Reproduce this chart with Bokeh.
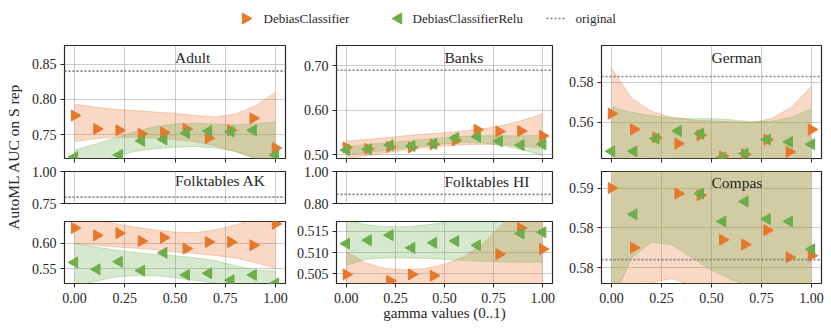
import math
from bokeh.plotting import figure
from bokeh.models import Span, Label, FixedTicker, Range1d
from bokeh.layouts import row, column
from bokeh.embed import file_html
from bokeh.resources import INLINE

# ---------------- data ----------------
GAMMA = [0.0, 0.111, 0.222, 0.333, 0.444, 0.556, 0.667, 0.778, 0.889, 1.0]
BAND_X = [0.0, 0.1, 0.2, 0.3, 0.4, 0.5, 0.6, 0.7, 0.8, 0.9, 1.0]
X_TICKS = [0.0, 0.25, 0.5, 0.75, 1.0]
X_TICK_LABELS = ["0.00", "0.25", "0.50", "0.75", "1.00"]

ADULT_DEBIAS = [0.777, 0.758, 0.756, 0.751, 0.753, 0.758, 0.745, 0.756, 0.773, 0.731]
ADULT_RELU = [0.718, 0.705, 0.721, 0.741, 0.743, 0.752, 0.755, 0.754, 0.756, 0.721]
ADULT_ORIGINAL = 0.840
ADULT_DEBIAS_LO = [0.740, 0.744, 0.746, 0.746, 0.745, 0.743, 0.740, 0.734, 0.726, 0.716, 0.705]
ADULT_DEBIAS_HI = [0.793, 0.789, 0.786, 0.784, 0.782, 0.780, 0.777, 0.775, 0.779, 0.791, 0.810]
ADULT_RELU_LO = [0.700, 0.710, 0.719, 0.726, 0.730, 0.732, 0.733, 0.731, 0.726, 0.716, 0.700]
ADULT_RELU_HI = [0.728, 0.736, 0.745, 0.754, 0.761, 0.765, 0.766, 0.765, 0.764, 0.765, 0.768]
ADULT_YTICKS = [0.75, 0.80, 0.85]
ADULT_YLABELS = ["0.75", "0.80", "0.85"]

BANKS_DEBIAS = [0.516, 0.513, 0.517, 0.516, 0.523, 0.532, 0.556, 0.552, 0.553, 0.542]
BANKS_RELU = [0.510, 0.512, 0.521, 0.519, 0.524, 0.5375, 0.540, 0.530, 0.521, 0.523]
BANKS_ORIGINAL = 0.690
BANKS_DEBIAS_LO = [0.490, 0.497, 0.504, 0.510, 0.515, 0.519, 0.522, 0.523, 0.522, 0.519, 0.514]
BANKS_DEBIAS_HI = [0.530, 0.534, 0.538, 0.542, 0.546, 0.549, 0.553, 0.558, 0.566, 0.577, 0.592]
BANKS_RELU_LO = [0.500, 0.504, 0.509, 0.514, 0.519, 0.524, 0.527, 0.526, 0.520, 0.510, 0.498]
BANKS_RELU_HI = [0.518, 0.522, 0.526, 0.530, 0.534, 0.538, 0.541, 0.542, 0.542, 0.542, 0.543]
BANKS_YTICKS = [0.50, 0.60, 0.70]
BANKS_YLABELS = ["0.50", "0.60", "0.70"]

GERMAN_DEBIAS = [0.5643, 0.5565, 0.5524, 0.5494, 0.5536, 0.5431, 0.5441, 0.5514, 0.5453, 0.5564]
GERMAN_RELU = [0.5456, 0.5456, 0.5519, 0.5557, 0.5544, 0.5425, 0.5445, 0.5514, 0.5502, 0.5491]
GERMAN_ORIGINAL = 0.5828
GERMAN_DEBIAS_LO = [0.538, 0.5422, 0.5421, 0.541, 0.540, 0.5395, 0.539, 0.5385, 0.538, 0.536, 0.532]
GERMAN_DEBIAS_HI = [0.5871, 0.5720, 0.5655, 0.5625, 0.5612, 0.5607, 0.5602, 0.5598, 0.5620, 0.5675, 0.5780]
GERMAN_RELU_LO = [0.540, 0.5431, 0.5426, 0.5415, 0.541, 0.5408, 0.5403, 0.5395, 0.538, 0.536, 0.533]
GERMAN_RELU_HI = [0.5676, 0.5650, 0.5632, 0.5622, 0.5618, 0.5618, 0.5613, 0.5603, 0.5605, 0.5625, 0.5668]
GERMAN_YTICKS = [0.56, 0.58]
GERMAN_YLABELS = ["0.56", "0.58"]

AK_DEBIAS = [0.630, 0.6156, 0.620, 0.6045, 0.611, 0.5896, 0.6026, 0.6026, 0.5961, 0.6383]
AK_RELU = [0.5623, 0.5487, 0.5636, 0.5461, 0.5812, 0.5377, 0.5409, 0.5273, 0.5377, 0.521]
AK_ORIGINAL = 0.800
AK_DEBIAS_LO = [0.5994, 0.596, 0.593, 0.5905, 0.587, 0.583, 0.580, 0.576, 0.571, 0.562, 0.5506]
AK_DEBIAS_HI = [0.650, 0.645, 0.639, 0.632, 0.626, 0.622, 0.621, 0.626, 0.636, 0.648, 0.665]
AK_RELU_LO = [0.515, 0.5247, 0.5335, 0.5364, 0.536, 0.5325, 0.527, 0.5215, 0.516, 0.511, 0.505]
AK_RELU_HI = [0.5994, 0.593, 0.587, 0.582, 0.578, 0.5753, 0.5714, 0.566, 0.556, 0.547, 0.5455]
AK_TOP_YTICKS = [0.75, 1.00]
AK_TOP_YLABELS = ["0.75", "1.00"]
AK_BOT_YTICKS = [0.55, 0.60]
AK_BOT_YLABELS = ["0.55", "0.60"]

HI_DEBIAS = [0.5048, 0.5005, 0.5033, 0.5048, 0.5045, 0.5008, 0.5010, 0.5096, 0.5158, 0.5108]
HI_RELU = [0.5121, 0.5129, 0.5141, 0.5111, 0.5123, 0.5127, 0.5117, 0.5190, 0.5145, 0.5148]
HI_ORIGINAL = 0.857
HI_DEBIAS_LO = [0.499, 0.500, 0.5005, 0.501, 0.501, 0.501, 0.5005, 0.500, 0.499, 0.497, 0.495]
HI_DEBIAS_HI = [0.5102, 0.5075, 0.5062, 0.5059, 0.5062, 0.5072, 0.5090, 0.5122, 0.5170, 0.522, 0.528]
HI_RELU_LO = [0.5070, 0.5084, 0.5087, 0.5087, 0.5086, 0.5084, 0.5081, 0.5079, 0.5078, 0.5077, 0.5077]
HI_RELU_HI = [0.5177, 0.5166, 0.5161, 0.5161, 0.5165, 0.5171, 0.5178, 0.5186, 0.5195, 0.5205, 0.5215]
HI_TOP_YTICKS = [0.80, 1.00]
HI_TOP_YLABELS = ["0.80", "1.00"]
HI_BOT_YTICKS = [0.505, 0.510, 0.515]
HI_BOT_YLABELS = ["0.505", "0.510", "0.515"]

COMPAS_DEBIAS = [0.5900, 0.5825, 0.5935, 0.5893, 0.5891, 0.5835, 0.5829, 0.5847, 0.5813, 0.5815]
COMPAS_RELU = [0.5935, 0.5867, 0.5940, 0.5930, 0.5893, 0.5858, 0.5883, 0.5861, 0.5858, 0.5823]
COMPAS_ORIGINAL = 0.5810
COMPAS_DEBIAS_LO = [0.570, 0.5755, 0.5781, 0.5786, 0.5778, 0.5765, 0.575, 0.574, 0.573, 0.571, 0.568]
COMPAS_DEBIAS_HI = [0.600, 0.598, 0.597, 0.596, 0.596, 0.596, 0.596, 0.597, 0.598, 0.600, 0.603]
COMPAS_RELU_LO = [0.5755, 0.5812, 0.5832, 0.5829, 0.5813, 0.5797, 0.5785, 0.5776, 0.5766, 0.5756, 0.5745]
COMPAS_RELU_HI = [0.601, 0.599, 0.598, 0.597, 0.597, 0.597, 0.597, 0.598, 0.599, 0.601, 0.604]
COMPAS_YTICKS = [0.580, 0.585, 0.590]
COMPAS_YLABELS = ["0.58", "0.58", "0.59"]

LEGEND_LABELS = ["DebiasClassifier", "DebiasClassifierRelu", "original"]

# ---------------- style ----------------
ORANGE = "#E8772E"
GREEN = "#6DAE4A"
DOTTED = "#7f7f7f"
FONT = "Liberation Serif"
INK = "#262626"
GRID = "#b0b0b0"
TICK_FS = "14px"
TITLE_FS = "15.5px"
LABEL_FS = "15px"
LEGEND_FS = "13px"


def make_panel(y_range, yticks, ylabels, fw, fh, bl, br, bt, bb,
               debias, relu, d_lo, d_hi, r_lo, r_hi, original,
               title=None, title_dy=11, xlabels=False, xticks_out=4, xlabel=None):
    p = figure(frame_width=fw, frame_height=fh, x_range=Range1d(-0.05, 1.05),
               y_range=Range1d(*y_range), output_backend="svg", toolbar_location=None,
               min_border_left=bl, min_border_right=br, min_border_top=bt, min_border_bottom=bb)
    p.outline_line_color = INK
    p.outline_line_width = 1.2
    p.background_fill_color = "white"
    p.border_fill_color = "white"
    for ax, ticks, labels in ((p.xaxis[0], X_TICKS, X_TICK_LABELS), (p.yaxis[0], yticks, ylabels)):
        ax.ticker = FixedTicker(ticks=ticks)
        ax.major_label_overrides = {t: l for t, l in zip(ticks, labels)}
        ax.axis_line_color = None
        ax.major_tick_in = 0
        ax.major_tick_out = 4
        ax.major_tick_line_color = INK
        ax.minor_tick_line_color = None
        ax.major_label_text_font = FONT
        ax.major_label_text_font_size = TICK_FS
        ax.major_label_text_color = INK
    p.yaxis.major_label_standoff = 4
    p.xaxis.major_label_standoff = 5
    p.xaxis.major_tick_out = xticks_out
    if not xlabels:
        p.xaxis.major_label_text_color = None
        p.xaxis.major_label_text_font_size = "1px"
        p.xaxis.major_label_standoff = 0
    if xlabel:
        p.xaxis.axis_label = xlabel
        p.xaxis.axis_label_text_font = FONT
        p.xaxis.axis_label_text_font_size = LABEL_FS
        p.xaxis.axis_label_text_font_style = "normal"
        p.xaxis.axis_label_text_color = INK
        p.xaxis.axis_label_standoff = -1
    p.grid.grid_line_color = GRID
    p.grid.grid_line_alpha = 0.65
    p.grid.grid_line_width = 1

    # confidence bands
    for lo, hi, col in ((d_lo, d_hi, ORANGE), (r_lo, r_hi, GREEN)):
        p.varea(x=BAND_X, y1=lo, y2=hi, fill_color=col, fill_alpha=0.28)
        p.line(BAND_X, lo, line_color=col, line_alpha=0.3, line_width=1)
        p.line(BAND_X, hi, line_color=col, line_alpha=0.3, line_width=1)
    # points
    p.scatter(GAMMA, debias, marker="triangle", angle=-math.pi / 2, size=11,
              fill_color=ORANGE, line_color=ORANGE)
    p.scatter(GAMMA, relu, marker="triangle", angle=math.pi / 2, size=11,
              fill_color=GREEN, line_color=GREEN)
    p.add_layout(Span(location=original, dimension="width", line_color=DOTTED,
                      line_dash="2 2", line_width=1.6))
    if title:
        y0, y1 = y_range
        p.add_layout(Label(x=0.5, y=y1 - title_dy * (y1 - y0) / fh, text=title,
                           text_align="left", text_baseline="middle", text_font=FONT,
                           text_font_size=TITLE_FS, text_color=INK))
    return p


# column 1
adult = make_panel((0.716, 0.8764), ADULT_YTICKS, ADULT_YLABELS, 221, 113, 34, 7, 17, 6,
                   ADULT_DEBIAS, ADULT_RELU, ADULT_DEBIAS_LO, ADULT_DEBIAS_HI,
                   ADULT_RELU_LO, ADULT_RELU_HI, ADULT_ORIGINAL, title="Adult", title_dy=11.5)
ak_top = make_panel((0.75, 1.00), AK_TOP_YTICKS, AK_TOP_YLABELS, 221, 32, 34, 7, 7, 7,
                    AK_DEBIAS, AK_RELU, AK_DEBIAS_LO, AK_DEBIAS_HI,
                    AK_RELU_LO, AK_RELU_HI, AK_ORIGINAL, title="Folktables AK", title_dy=9,
                    xticks_out=0)
ak_bot = make_panel((0.5208, 0.6429), AK_BOT_YTICKS, AK_BOT_YLABELS, 221, 62, 34, 7, 11, 26,
                    AK_DEBIAS, AK_RELU, AK_DEBIAS_LO, AK_DEBIAS_HI,
                    AK_RELU_LO, AK_RELU_HI, AK_ORIGINAL, xlabels=True)

# column 2
banks = make_panel((0.491, 0.7457), BANKS_YTICKS, BANKS_YLABELS, 216, 113, 44, 9, 17, 6,
                   BANKS_DEBIAS, BANKS_RELU, BANKS_DEBIAS_LO, BANKS_DEBIAS_HI,
                   BANKS_RELU_LO, BANKS_RELU_HI, BANKS_ORIGINAL, title="Banks", title_dy=11.5)
hi_top = make_panel((0.80, 1.00), HI_TOP_YTICKS, HI_TOP_YLABELS, 216, 32, 44, 9, 7, 7,
                    HI_DEBIAS, HI_RELU, HI_DEBIAS_LO, HI_DEBIAS_HI,
                    HI_RELU_LO, HI_RELU_HI, HI_ORIGINAL, title="Folktables HI", title_dy=10,
                    xticks_out=0)
hi_bot = make_panel((0.50266, 0.51734), HI_BOT_YTICKS, HI_BOT_YLABELS, 216, 62, 44, 9, 11, 36,
                    HI_DEBIAS, HI_RELU, HI_DEBIAS_LO, HI_DEBIAS_HI,
                    HI_RELU_LO, HI_RELU_HI, HI_ORIGINAL, xlabels=True,
                    xlabel="gamma values (0..1)")

# column 3
german = make_panel((0.542, 0.5982), GERMAN_YTICKS, GERMAN_YLABELS, 220, 113, 40, 4, 17, 6,
                    GERMAN_DEBIAS, GERMAN_RELU, GERMAN_DEBIAS_LO, GERMAN_DEBIAS_HI,
                    GERMAN_RELU_LO, GERMAN_RELU_HI, GERMAN_ORIGINAL, title="German", title_dy=11.5)
compas = make_panel((0.578, 0.59208), COMPAS_YTICKS, COMPAS_YLABELS, 220, 112, 40, 4, 7, 26,
                    COMPAS_DEBIAS, COMPAS_RELU, COMPAS_DEBIAS_LO, COMPAS_DEBIAS_HI,
                    COMPAS_RELU_LO, COMPAS_RELU_HI, COMPAS_ORIGINAL, title="Compas", title_dy=11,
                    xlabels=True)

# y label strip
YL_H = 280
yl = figure(width=28, height=YL_H, x_range=Range1d(0, 1), y_range=Range1d(0, 1),
            x_axis_location=None, y_axis_location=None, min_border=0,
            output_backend="svg", toolbar_location=None)
yl.outline_line_color = None
yl.grid.visible = False
yl.add_layout(Label(x=0.48, y=(YL_H - 128) / YL_H, text="AutoML AUC on S rep",
                    angle=math.pi / 2, text_align="center", text_baseline="middle",
                    text_font=FONT, text_font_size=TITLE_FS, text_color=INK))

# legend strip: a 1:1 pixel canvas (Bokeh legends cannot rotate markers)
LG_W, LG_H = 823, 28
LG_Y = 10
lg = figure(width=LG_W, height=LG_H, x_range=Range1d(0, LG_W), y_range=Range1d(0, LG_H),
            x_axis_location=None, y_axis_location=None, min_border=0,
            output_backend="svg", toolbar_location=None)
lg.outline_line_color = None
lg.grid.visible = False
lg.scatter(x=[245], y=[LG_Y], marker="triangle", angle=-math.pi / 2, size=11,
           fill_color=ORANGE, line_color=ORANGE)
lg.scatter(x=[398], y=[LG_Y], marker="triangle", angle=math.pi / 2, size=11,
           fill_color=GREEN, line_color=GREEN)
lg.segment(x0=[546], y0=[LG_Y], x1=[566], y1=[LG_Y], line_color=DOTTED,
           line_dash="2 2", line_width=1.6)
for lab, lx in zip(LEGEND_LABELS, (263, 412, 575)):
    lg.add_layout(Label(x=lx, y=LG_Y, text=lab, text_align="left", text_baseline="middle",
                        text_font=FONT, text_font_size=LEGEND_FS, text_color=INK))

col1 = column(adult, ak_top, ak_bot)
col2 = column(banks, hi_top, hi_bot)
col3 = column(german, compas)
page = column(lg, row(yl, col1, col2, col3))

open("out.html", "w").write(file_html(page, INLINE))
